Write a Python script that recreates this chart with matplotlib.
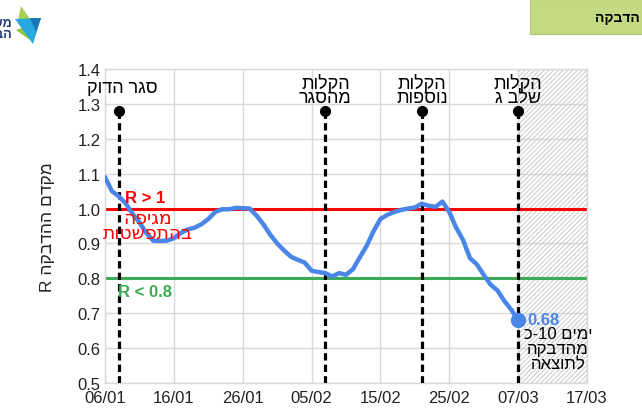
import matplotlib
matplotlib.use("Agg")
import matplotlib.pyplot as plt
import matplotlib.dates as mdates
import pandas as pd
from matplotlib.patches import Polygon, Rectangle

plt.rcParams['font.family'] = ['Liberation Sans', 'DejaVu Sans']
plt.rcParams['hatch.linewidth'] = 0.7


def heb(s):
    # matplotlib has no bidi, so write each line in visual order
    return "\n".join(line[::-1] for line in s.split("\n"))


# daily R values, 06/01 .. 07/03
r_values = [1.09, 1.05, 1.035, 1.015, 0.985, 0.96, 0.93, 0.908, 0.907, 0.908,
            0.915, 0.93, 0.94, 0.945, 0.955, 0.97, 0.99, 0.998, 0.998, 1.002,
            1.001, 1.0, 0.98, 0.955, 0.925, 0.9, 0.88, 0.862, 0.853, 0.845,
            0.822, 0.818, 0.815, 0.805, 0.815, 0.81, 0.826, 0.86, 0.893, 0.935,
            0.97, 0.982, 0.99, 0.996, 1.0, 1.003, 1.014, 1.008, 1.005, 1.02,
            0.99, 0.945, 0.91, 0.858, 0.84, 0.81, 0.782, 0.765, 0.735, 0.71,
            0.68]
dates = pd.date_range("2021-01-06", periods=len(r_values), freq="D")

event_dates = pd.to_datetime(["2021-01-08", "2021-02-07", "2021-02-21", "2021-03-07"])
event_labels = ["סגר הדוק", "הקלות\nמהסגר", "הקלות\nנוספות", "הקלות\nשלב ג"]
event_top = 1.28

x_ticks = pd.date_range("2021-01-06", "2021-03-17", freq="10D")
y_ticks = [0.5, 0.6, 0.7, 0.8, 0.9, 1.0, 1.1, 1.2, 1.3, 1.4]

blue = "#4A86E8"
green = "#3DAA55"
red = "#FF0000"

fig = plt.figure(figsize=(6.42, 4.10), dpi=100)

# header box and logo
fig.patches.append(Rectangle((530 / 642, 1 - 35 / 410), 112 / 642, 35 / 410,
                             transform=fig.transFigure, facecolor="#C3D982",
                             edgecolor="#B0C870", lw=0.8))
fig.text(640 / 642, 1 - 18 / 410, heb("הדבקה"), ha="right", va="center",
         fontsize=10, fontweight="bold")


def px(pts):
    return [(x / 642, 1 - y / 410) for x, y in pts]


fig.patches.append(Polygon(px([(21, 7), (30, 20), (18, 21)]), closed=True,
                           transform=fig.transFigure, facecolor="#A9CF54", edgecolor="none"))
fig.patches.append(Polygon(px([(16, 31), (30, 41), (24, 28)]), closed=True,
                           transform=fig.transFigure, facecolor="#8DC63F", edgecolor="none"))
fig.patches.append(Polygon(px([(15, 20), (41, 19), (33, 45)]), closed=True,
                           transform=fig.transFigure, facecolor="#29A8DF", edgecolor="none"))
fig.patches.append(Polygon(px([(30, 19), (41, 19), (36, 33)]), closed=True,
                           transform=fig.transFigure, facecolor="#1B75BB", edgecolor="none"))
fig.text(12 / 642, 1 - 24 / 410, heb("משרד"), ha="right", va="center",
         fontsize=9, fontweight="bold", color="#1F3B73")
fig.text(12 / 642, 1 - 35 / 410, heb("הבריאות"), ha="right", va="center",
         fontsize=9, fontweight="bold", color="#1F3B73")

ax = fig.add_axes([105 / 642, 26 / 410, 482 / 642, 314 / 410])

ax.axvspan(pd.Timestamp("2021-03-07"), pd.Timestamp("2021-03-17"), facecolor="none",
           hatch="///////", edgecolor="#C8C8C8", linewidth=0, zorder=0.6)

ax.axhline(1.0, color=red, lw=2.2, zorder=2)
ax.axhline(0.8, color=green, lw=2.2, zorder=2)

for d in event_dates:
    ax.plot([d, d], [0.5, event_top], color="black", lw=2.3, dashes=(2.3, 1.3), zorder=3)
    ax.plot([d], [event_top], "o", color="black", ms=7, zorder=3)

ax.plot(dates, r_values, color=blue, lw=3.2, solid_capstyle="round", zorder=4)
ax.plot([dates[-1]], [r_values[-1]], "o", color=blue, ms=10, zorder=5)

# event labels
offsets = [0.5, 0, 0, 0]
for d, lab, off in zip(event_dates, event_labels, offsets):
    y = 1.348 if "\n" not in lab else 1.34
    ax.text(d + pd.Timedelta(days=off), y, heb(lab), ha="center", va="center",
            fontsize=13, linespacing=0.8, zorder=6)

ax.text(pd.Timestamp("2021-01-08 22:00"), 1.033, "R > 1", color=red, fontsize=12,
        fontweight="bold", ha="left", va="center", zorder=6)
ax.text(pd.Timestamp("2021-01-12 04:00"), 0.953, heb("מגיפה\nבהתפשטות"), color=red,
        fontsize=13.5, family="DejaVu Sans", ha="center", va="center",
        linespacing=0.75, zorder=6)
ax.text(pd.Timestamp("2021-01-07 22:00"), 0.761, "R < 0.8", color=green, fontsize=12,
        fontweight="bold", ha="left", va="center", zorder=6)
ax.text(pd.Timestamp("2021-03-08 07:00"), 0.683, "%.2f" % r_values[-1], color=blue,
        fontsize=12, fontweight="bold", ha="left", va="center", zorder=6)
ax.text(pd.Timestamp("2021-03-12 19:00"), 0.598,
        "כ-10 " + heb("ימים") + "\n" + heb("מהדבקה\nלתוצאה"),
        fontsize=12, ha="center", va="center", linespacing=1.0, zorder=6)

ax.set_xlim(x_ticks[0], x_ticks[-1])
ax.set_ylim(0.5, 1.4)
ax.set_xticks(x_ticks)
ax.xaxis.set_major_formatter(mdates.DateFormatter("%d/%m"))
ax.set_yticks(y_ticks)
ax.set_yticklabels(["%.1f" % v for v in y_ticks])
ax.tick_params(length=0, labelsize=12, colors="#222222")
ax.tick_params(axis="y", pad=3)
ax.tick_params(axis="x", pad=5)

ax.grid(True, color="#D9D9D9", lw=1)
ax.set_axisbelow(True)
for s in ax.spines.values():
    s.set_color("#D9D9D9")
    s.set_linewidth(1)

ax.set_ylabel("R " + heb("ההדבקה") + " " + heb("מקדם"), fontsize=12.5, color="#222222")
ax.yaxis.set_label_coords(-0.104, 0.5)

fig.savefig("out.png", dpi=100)
